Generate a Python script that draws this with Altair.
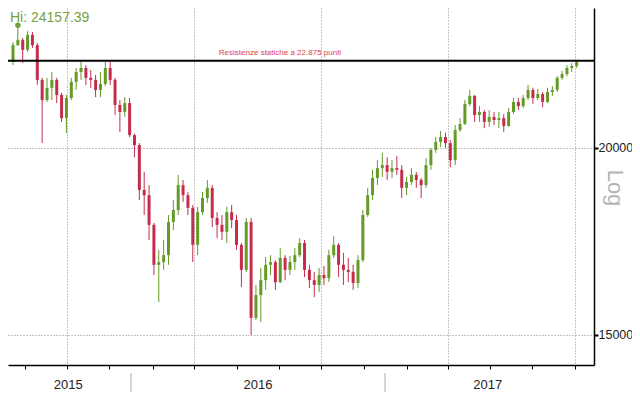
import altair as alt
import pandas as pd

# ---------------- data (weekly candles) ----------------
START = "2015-07-15"          # first weekly candle (Wednesday)
CHART_START = "2015-07-04"    # left edge of the original chart window
X_END = "2017-10-21T19:00:00"

OPENS = [22830, 23430, 23620, 23260, 23800, 23430, 22210, 21530, 21940, 22210,
         21700, 20940, 21600, 22140, 22480, 22620, 22280, 22210, 21870, 22070,
         22620, 22210, 21370, 21140, 21430, 20400, 20090, 18750, 18600, 17770,
         16710, 16780, 16960, 17850, 18180, 18890, 18600, 18240, 17230, 18120,
         18520, 18810, 17960, 17770, 17580, 18120, 17900, 17230, 16580, 17850,
         15400, 15950, 16320, 16710, 16780, 16270, 16890, 16580, 16780, 16960,
         17280, 16580, 16320, 16200, 16450, 16370, 16960, 17230, 16710, 16580,
         16530, 16250, 16830, 18040, 18600, 19100, 19390, 19480, 19280, 19390,
         19340, 18810, 18980, 19190, 19040, 18890, 19480, 19940, 20190, 20340,
         20150, 19630, 20560, 20750, 21400, 21670, 21040, 21140, 20820, 20980,
         20880, 20940, 20690, 21140, 21470, 21330, 21600, 21870, 21600, 21730,
         21470, 21800, 21870, 22280, 22410, 22620, 22690]
CLOSES = [23430, 23620, 23260, 23800, 23430, 22210, 21530, 21940, 22210, 21700,
          20940, 21600, 22140, 22480, 22620, 22280, 22210, 21870, 22070, 22620,
          22210, 21370, 21140, 21430, 20400, 20090, 18750, 18600, 17770, 16710,
          16780, 16960, 17850, 18180, 18890, 18600, 18240, 17230, 18120, 18520,
          18810, 17960, 17770, 17580, 18120, 17900, 17230, 16580, 17850, 15400,
          15950, 16320, 16710, 16780, 16270, 16890, 16580, 16780, 16960, 17280,
          16580, 16320, 16200, 16450, 16370, 16960, 17230, 16710, 16580, 16530,
          16250, 16830, 18040, 18600, 19100, 19390, 19480, 19280, 19390, 19340,
          18810, 18980, 19190, 19040, 18890, 19480, 19940, 20190, 20340, 20150,
          19630, 20560, 20750, 21400, 21670, 21040, 21140, 20820, 20980, 20880,
          20940, 20690, 21140, 21470, 21330, 21600, 21870, 21600, 21730, 21470,
          21800, 21870, 22280, 22410, 22620, 22690, 22830]
HIGHS = [23540, 24157.39, 23690, 23940, 23910, 23510, 22280, 22280, 22480, 22280,
         21770, 21700, 22280, 22620, 22870, 22720, 22550, 22380, 22480, 22830,
         22830, 22280, 21530, 21630, 21600, 20440, 20150, 19280, 18890, 17820,
         17100, 17360, 18040, 18460, 19190, 19040, 18690, 18320, 18270, 18690,
         19040, 18890, 18120, 18040, 18270, 18320, 18040, 17280, 17960, 17960,
         16200, 16630, 16910, 16960, 16830, 17150, 16960, 16940, 17150, 17410,
         17360, 16710, 16530, 16630, 16680, 17100, 17470, 17280, 17020, 16890,
         16710, 16960, 18180, 18810, 19340, 19630, 19850, 19720, 19630, 19750,
         19480, 19130, 19390, 19280, 19100, 19690, 20000, 20340, 20530, 20470,
         20250, 20720, 20940, 21530, 21870, 21700, 21330, 21200, 21200, 21140,
         21140, 21070, 21270, 21600, 21600, 21700, 22040, 21940, 21900, 21800,
         21940, 22000, 22340, 22520, 22720, 22790, 22900]
LOWS = [22720, 23400, 22790, 23180, 23330, 22040, 20150, 21470, 21530, 21430,
        20820, 20470, 21530, 21870, 22210, 22040, 21940, 21630, 21630, 22000,
        22040, 21040, 20500, 20980, 20340, 19720, 18460, 18040, 17360, 16450,
        15780, 16580, 16710, 17630, 18040, 18410, 18040, 16780, 16960, 18040,
        18380, 17710, 17410, 17360, 17280, 17680, 17100, 16150, 16530, 15000,
        15350, 15300, 16080, 16450, 16080, 16250, 16320, 16450, 16580, 16910,
        16400, 16120, 15900, 16030, 16200, 16270, 16890, 16400, 16200, 16270,
        16080, 16120, 16780, 17990, 18460, 18890, 19130, 19040, 19100, 19190,
        18520, 18600, 18890, 18810, 18520, 18810, 19340, 19850, 20030, 20000,
        19420, 19480, 20500, 20720, 21330, 20820, 20820, 20620, 20660, 20720,
        20620, 20500, 20660, 21070, 21200, 21270, 21530, 21400, 21530, 21300,
        21430, 21670, 21800, 22210, 22340, 22480, 22620]

RESISTANCE = 22875
RESISTANCE_LABEL = "Resistenze statiche a 22.875 punti"
Y_TICKS = [15000, 20000, 25000]
YEARS = [2015, 2016, 2017]

GREEN = "#649a26"
RED = "#c42c4c"
HI_GREEN = "#76a03c"

# ---------------- tables ----------------
dates = pd.date_range(START, periods=len(CLOSES), freq="7D")
df = pd.DataFrame({
    "date": dates.strftime("%Y-%m-%d"),
    "open": OPENS, "close": CLOSES, "high": HIGHS, "low": LOWS,
})
df["dir"] = ["up" if c >= o else "down" for o, c in zip(OPENS, CLOSES)]

hi_row = df.loc[[df["high"].idxmax()]].copy()
hi_row["label"] = "Hi: " + f"{hi_row['high'].iloc[0]:.2f}"

x0 = pd.Timestamp(START)
x1 = pd.Timestamp(X_END)
c0 = pd.Timestamp(CHART_START)
year_rows = []
for yr in YEARS:
    a = max(pd.Timestamp(f"{yr}-01-01"), c0)
    b = min(pd.Timestamp(f"{yr + 1}-01-01"), pd.Timestamp("2017-10-24"))
    year_rows.append({"year": str(yr), "mid": (a + (b - a) / 2).strftime("%Y-%m-%dT%H:%M:%S")})
years_df = pd.DataFrame(year_rows)
sep_df = pd.DataFrame({"d": [f"{yr}-01-01" for yr in YEARS[1:]]})

month_ticks = []
m = pd.Timestamp("2015-08-01")
while m <= x1:
    month_ticks.append(alt.DateTime(year=m.year, month=m.month, date=1))
    m = m + pd.DateOffset(months=1)

# ---------------- scales & axes ----------------
W, H = 586, 357
x_scale = alt.Scale(domain=[alt.DateTime(year=x0.year, month=x0.month, date=x0.day),
                            alt.DateTime(year=x1.year, month=x1.month, date=x1.day, hours=x1.hour)])
y_scale = alt.Scale(type="log", domain=[14323, 24807], nice=False, zero=False)

x_axis = alt.Axis(values=month_ticks, labels=False, title=None, tickSize=4,
                  tickColor="black", domainColor="black", domainWidth=1.5,
                  grid=True, gridColor="#8a8a8a", gridDash=[1, 2], gridWidth=1,
                  gridOpacity={"condition": {"test": "month(datum.value) % 3 == 0", "value": 1},
                               "value": 0})
y_axis = alt.Axis(orient="right", values=Y_TICKS, format="d", title=None,
                  tickSize=4, tickWidth=2, tickColor="black", domainColor="black",
                  domainWidth=1.5, labelFont="Liberation Sans", labelFontSize=12.5,
                  labelColor="#222222", labelPadding=0,
                  grid=True, gridColor="#8a8a8a", gridDash=[1, 2], gridWidth=1)

color = alt.Color("dir:N", scale=alt.Scale(domain=["up", "down"], range=[GREEN, RED]),
                  legend=None)

base = alt.Chart(df)
wicks = base.mark_rule(strokeWidth=1, clip=True).encode(
    x=alt.X("date:T", scale=x_scale, axis=x_axis),
    y=alt.Y("low:Q", scale=y_scale, axis=y_axis),
    y2="high:Q",
    color=color,
)
bodies = base.mark_bar(width=3, clip=True).encode(
    x=alt.X("date:T", scale=x_scale, title=None),
    y=alt.Y("open:Q", scale=y_scale, title=None),
    y2="close:Q",
    color=color,
)

res_df = pd.DataFrame({"v": [RESISTANCE], "label": [RESISTANCE_LABEL]})
res_line = alt.Chart(res_df).mark_rule(color="black", strokeWidth=2).encode(
    y=alt.Y("v:Q", scale=y_scale, title=None))
res_text = alt.Chart(res_df).mark_text(color="#e0404e", fontSize=8, font="Liberation Sans",
                                       dy=-8, align="center").encode(
    y=alt.Y("v:Q", scale=y_scale, title=None), x=alt.value(272), text="label:N")

hi_point = alt.Chart(hi_row).mark_point(filled=True, size=30, color=HI_GREEN, opacity=1).encode(
    x=alt.X("date:T", scale=x_scale, title=None),
    y=alt.Y("high:Q", scale=y_scale, title=None))
hi_text = alt.Chart(hi_row).mark_text(align="left", baseline="alphabetic", fontSize=14,
                                      font="Liberation Sans", color=HI_GREEN).encode(
    x=alt.value(2), y=alt.value(14), text="label:N")

year_text = alt.Chart(years_df).mark_text(fontSize=13, font="Liberation Sans", color="#222222",
                                          baseline="middle").encode(
    x=alt.X("mid:T", scale=x_scale, title=None), y=alt.value(H + 20), text="year:N")
year_sep = alt.Chart(sep_df).mark_rule(color="#aaaaaa", strokeWidth=1).encode(
    x=alt.X("d:T", scale=x_scale, title=None), y=alt.value(H + 8), y2=alt.value(H + 27))

log_text = alt.Chart(pd.DataFrame({"t": ["Log"]})).mark_text(
    angle=90, fontSize=22, font="Liberation Sans", color="#b4b4b4",
    align="center", baseline="middle").encode(
    x=alt.value(W + 21), y=alt.value(180), text="t:N")

chart = alt.layer(
    wicks, bodies, res_line, res_text, hi_point, hi_text, year_sep, year_text, log_text
).properties(
    width=W, height=H,
    autosize=alt.AutoSizeParams(type="none"),
    padding={"left": 0, "top": 0, "right": 38, "bottom": 27},
    background="white",
).configure_view(strokeWidth=0)

chart.save("out.html", embed_options={"renderer": "svg", "actions": False})
